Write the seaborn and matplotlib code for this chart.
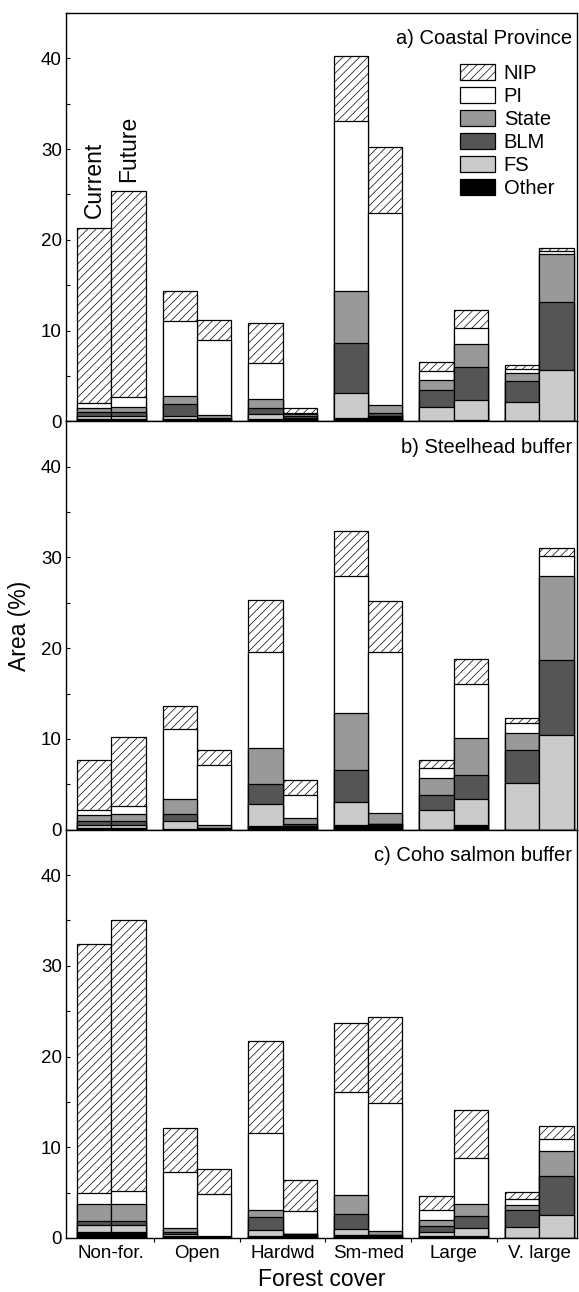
import matplotlib
matplotlib.use("Agg")
import numpy as np
import pandas as pd
import matplotlib.pyplot as plt
from matplotlib.patches import Patch
from matplotlib.ticker import MultipleLocator, FixedLocator
import seaborn as sns

covers = ["Non-for.", "Open", "Hardwd", "Sm-med", "Large", "V. large"]
periods = ["Current", "Future"]
owners = ["Other", "FS", "BLM", "State", "PI", "NIP"]  # stacking order, bottom -> top
owner_colors = {"Other": "black", "FS": "#cbcbcb", "BLM": "#555555",
                "State": "#999999", "PI": "white", "NIP": "white"}
owner_hatch = {"NIP": "////"}

# a) Coastal Province
coastal_current = {
    "Other": [0.3, 0.2, 0.2, 0.37, 0.07, 0.03],
    "FS": [0.3, 0.4, 0.55, 2.77, 1.48, 2.11],
    "BLM": [0.4, 1.25, 0.75, 5.53, 1.85, 2.29],
    "State": [0.5, 0.9, 1.0, 5.73, 1.1, 0.85],
    "PI": [0.5, 8.3, 3.9, 18.7, 1.03, 0.52],
    "NIP": [19.3, 3.35, 4.45, 7.2, 1.04, 0.4],
}
coastal_future = {
    "Other": [0.3, 0.15, 0.3, 0.5, 0.18, 0.0],
    "FS": [0.3, 0.1, 0.05, 0.05, 2.11, 5.6],
    "BLM": [0.4, 0.1, 0.2, 0.4, 3.69, 7.5],
    "State": [0.6, 0.3, 0.3, 0.85, 2.51, 5.35],
    "PI": [1.05, 8.35, 0.1, 21.1, 1.77, 0.3],
    "NIP": [22.7, 2.2, 0.55, 7.3, 2.04, 0.33],
}

# b) Steelhead buffer
steelhead_current = {
    "Other": [0.2, 0.1, 0.37, 0.48, 0.0, 0.0],
    "FS": [0.3, 0.85, 2.42, 2.57, 2.2, 5.17],
    "BLM": [0.45, 0.8, 2.27, 3.55, 1.65, 3.56],
    "State": [0.65, 1.63, 3.97, 6.28, 1.84, 1.95],
    "PI": [0.6, 7.74, 10.49, 15.12, 1.1, 1.06],
    "NIP": [5.43, 2.53, 5.78, 4.95, 0.84, 0.59],
}
steelhead_future = {
    "Other": [0.2, 0.05, 0.4, 0.66, 0.48, 0.0],
    "FS": [0.3, 0.05, 0.05, 0.0, 2.93, 10.39],
    "BLM": [0.45, 0.05, 0.2, 0.0, 2.57, 8.33],
    "State": [0.75, 0.33, 0.66, 1.17, 4.15, 9.28],
    "PI": [0.95, 6.6, 2.46, 17.8, 5.94, 2.1],
    "NIP": [7.55, 1.72, 1.72, 5.62, 2.76, 0.95],
}

# c) Coho salmon buffer
coho_current = {
    "Other": [0.63, 0.2, 0.26, 0.29, 0.2, 0.0],
    "FS": [0.84, 0.2, 0.59, 0.74, 0.43, 1.18],
    "BLM": [0.37, 0.3, 1.43, 1.65, 0.66, 1.95],
    "State": [1.95, 0.36, 0.85, 2.1, 0.66, 0.47],
    "PI": [1.17, 6.22, 8.45, 11.32, 1.1, 0.74],
    "NIP": [27.44, 4.87, 10.18, 7.61, 1.55, 0.7],
}
coho_future = {
    "Other": [0.63, 0.1, 0.4, 0.3, 0.26, 0.0],
    "FS": [0.84, 0.04, 0.02, 0.07, 0.84, 2.57],
    "BLM": [0.37, 0.02, 0.03, 0.0, 1.29, 4.23],
    "State": [1.95, 0.02, 0.03, 0.44, 1.36, 2.83],
    "PI": [1.43, 4.71, 2.46, 14.08, 5.07, 1.29],
    "NIP": [29.78, 2.72, 3.49, 9.49, 5.26, 1.47],
}

panels = [
    ("a) Coastal Province", coastal_current, coastal_future),
    ("b) Steelhead buffer", steelhead_current, steelhead_future),
    ("c) Coho salmon buffer", coho_current, coho_future),
]


def long_table(cur, fut):
    # cumulative stack heights; bars are overdrawn from the top layer down
    rows = []
    for period, data in zip(periods, [cur, fut]):
        tbl = pd.DataFrame(data, index=covers)[owners].cumsum(axis=1)
        for cov in covers:
            for o in owners:
                rows.append({"cover": cov, "period": period, "owner": o,
                             "height": tbl.loc[cov, o]})
    return pd.DataFrame(rows)


sns.set_style("ticks")
plt.rcParams["font.family"] = ["Liberation Sans", "DejaVu Sans"]
plt.rcParams["hatch.linewidth"] = 0.5
plt.rcParams["axes.linewidth"] = 1.0
for key in ["text.color", "axes.labelcolor", "xtick.color", "ytick.color", "axes.edgecolor"]:
    plt.rcParams[key] = "black"

fig, axes = plt.subplots(3, 1, figsize=(5.79, 12.92), dpi=100, sharex=True)
fig.subplots_adjust(left=0.114, right=0.9965, top=0.990, bottom=0.0418, hspace=0)

for ax, (title, cur, fut) in zip(axes, panels):
    df = long_table(cur, fut)
    for owner in owners[::-1]:
        sub = df[df["owner"] == owner]
        sns.barplot(data=sub, x="cover", y="height", hue="period",
                    hue_order=periods, order=covers, dodge=True, width=0.8,
                    palette={p: owner_colors[owner] for p in periods},
                    saturation=1, errorbar=None, legend=False,
                    edgecolor="black", linewidth=0.9,
                    hatch=owner_hatch.get(owner, None), ax=ax)
    ax.set_ylim(0, 45)
    ax.set_xlim(-0.53, 5.44)
    ax.set_xlabel("")
    ax.set_ylabel("")
    ax.yaxis.set_major_locator(MultipleLocator(10))
    ax.yaxis.set_minor_locator(MultipleLocator(5))
    ax.xaxis.set_minor_locator(FixedLocator([0.5, 1.5, 2.5, 3.5, 4.5]))
    ax.tick_params(axis="y", which="major", direction="in", length=3, width=0.8,
                   labelsize=13.5, pad=3)
    ax.tick_params(axis="y", which="minor", direction="in", length=3, width=0.8)
    ax.tick_params(axis="x", which="major", length=0, labelsize=13.5, pad=5)
    ax.tick_params(axis="x", which="minor", direction="out", length=3, width=0.8)
    for s in ax.spines.values():
        s.set_visible(True)
        s.set_linewidth(1.0)
        s.set_color("black")
    ax.text(0.99, 0.937, title, transform=ax.transAxes, ha="right", va="center",
            fontsize=14.5)

# period labels above the Non-for. bars of panel a
top_cur = sum(coastal_current[o][0] for o in owners)
top_fut = sum(coastal_future[o][0] for o in owners)
axes[0].text(-0.2, top_cur + 1.1, "Current", rotation=90, ha="center", va="bottom",
             fontsize=16.5)
axes[0].text(0.2, top_fut + 1.0, "Future", rotation=90, ha="center", va="bottom",
             fontsize=16.5)

handles = [Patch(facecolor=owner_colors[o], edgecolor="black", linewidth=0.9,
                 hatch=owner_hatch.get(o, None), label=o) for o in owners[::-1]]
axes[0].legend(handles=handles, loc="upper left", bbox_to_anchor=(0.772, 0.875),
               frameon=False, fontsize=14.5, handlelength=1.7, handleheight=0.85,
               labelspacing=0.2, handletextpad=0.45, borderpad=0, borderaxespad=0)

axes[1].set_ylabel("Area (%)", fontsize=16.5)
axes[1].yaxis.set_label_coords(-0.068, 0.5)
axes[2].set_xlabel("Forest cover", fontsize=16.5)
axes[2].xaxis.set_label_coords(0.5, -0.073)

fig.savefig("out.png", dpi=100)
